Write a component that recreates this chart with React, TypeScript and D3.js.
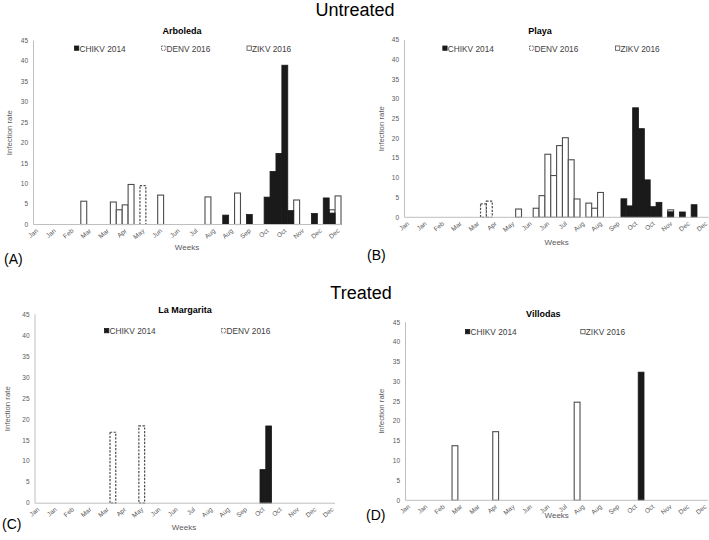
import React from "react";
import * as d3 from "d3";

// ---- categories & labels ----
const weeks: number[] = d3.range(1, 53); // 52 epidemiological weeks
const monthTicks = ["Jan","Jan","Feb","Mar","Mar","Apr","May","Jun","Jun","Jul","Aug","Aug","Sep","Oct","Oct","Nov","Dec","Dec"];
const yTicks = [0, 5, 10, 15, 20, 25, 30, 35, 40, 45];

// ---- data: [week, infection rate] ----
const arboledaCHIKV: [number, number][] = [[33,2.3],[37,2.45],[40,6.7],[41,13.0],[42,17.4],[43,39.0],[44,3.4],[48,2.7],[50,6.5],[51,2.8]];
const arboledaDENV: [number, number][] = [[19,9.5]];
const arboledaZIKV: [number, number][] = [[9,5.7],[14,5.5],[15,3.6],[16,4.8],[17,9.8],[22,7.2],[30,6.75],[35,7.7],[45,6.0],[51,3.6],[52,7.0]];

const playaCHIKV: [number, number][] = [[38,4.7],[39,2.9],[40,27.8],[41,22.5],[42,9.5],[43,2.7],[44,3.8],[46,1.4],[48,1.35],[50,3.2]];
const playaDENV: [number, number][] = [[14,3.4],[15,4.1]];
const playaZIKV: [number, number][] = [[20,2.1],[23,2.3],[24,5.5],[25,16.0],[26,10.6],[27,18.2],[28,20.2],[29,14.6],[30,4.65],[32,3.6],[33,2.3],[34,6.3],[46,1.9]];

const margaritaCHIKV: [number, number][] = [[40,8.0],[41,18.4]];
const margaritaDENV: [number, number][] = [[14,16.9],[19,18.4]];

const villodasCHIKV: [number, number][] = [[41,32.4]];
const villodasZIKV: [number, number][] = [[9,13.8],[16,17.35],[30,24.8]];

type SeriesKey = "CHIKV" | "DENV" | "ZIKV";
const seriesNames: Record<SeriesKey, string> = { CHIKV: "CHIKV 2014", DENV: "DENV 2016", ZIKV: "ZIKV 2016" };

const FONT = "'Liberation Sans', Arial, Helvetica, sans-serif";
const GRAY = "#595959";
const AXIS = "#bfbfbf";

interface PanelCfg {
  title: string;
  tag: string;
  x0: number; x1: number; y0: number; yTop: number;
  titleX: number; titleY: number;
  yTitleX: number;
  weeksX: number; weeksY: number;
  tagX: number; tagY: number;
  legendY: number;
  legend: { key: SeriesKey; x: number }[];
  series: { key: SeriesKey; data: [number, number][] }[];
}

const panels: PanelCfg[] = [
  {
    title: "Arboleda", tag: "(A)",
    x0: 33.5, x1: 341, y0: 224.5, yTop: 40.7,
    titleX: 182, titleY: 34, yTitleX: 9.5, weeksX: 187, weeksY: 250, tagX: 4, tagY: 264,
    legendY: 51.5,
    legend: [{ key: "CHIKV", x: 74 }, { key: "DENV", x: 161 }, { key: "ZIKV", x: 246.5 }],
    series: [{ key: "ZIKV", data: arboledaZIKV }, { key: "DENV", data: arboledaDENV }, { key: "CHIKV", data: arboledaCHIKV }],
  },
  {
    title: "Playa", tag: "(B)",
    x0: 404.5, x1: 708.7, y0: 217.3, yTop: 40,
    titleX: 540, titleY: 34, yTitleX: 381, weeksX: 556.7, weeksY: 244.5, tagX: 367, tagY: 260,
    legendY: 51.5,
    legend: [{ key: "CHIKV", x: 442.3 }, { key: "DENV", x: 529 }, { key: "ZIKV", x: 615 }],
    series: [{ key: "ZIKV", data: playaZIKV }, { key: "DENV", data: playaDENV }, { key: "CHIKV", data: playaCHIKV }],
  },
  {
    title: "La Margarita", tag: "(C)",
    x0: 35, x1: 335, y0: 503.2, yTop: 314.3,
    titleX: 185, titleY: 313, yTitleX: 7.5, weeksX: 184, weeksY: 530, tagX: 2, tagY: 529,
    legendY: 334,
    legend: [{ key: "CHIKV", x: 104 }, { key: "DENV", x: 221 }],
    series: [{ key: "DENV", data: margaritaDENV }, { key: "CHIKV", data: margaritaCHIKV }],
  },
  {
    title: "Villodas", tag: "(D)",
    x0: 405.5, x1: 708, y0: 500.3, yTop: 322.3,
    titleX: 543.3, titleY: 316.5, yTitleX: 381.5, weeksX: 556.7, weeksY: 518, tagX: 366, tagY: 520,
    legendY: 335,
    legend: [{ key: "CHIKV", x: 465 }, { key: "ZIKV", x: 580.3 }],
    series: [{ key: "ZIKV", data: villodasZIKV }, { key: "CHIKV", data: villodasCHIKV }],
  },
];

function barStyle(key: SeriesKey) {
  if (key === "CHIKV") return { fill: "#1a1a1a", stroke: "#1a1a1a", strokeWidth: 0.8 };
  if (key === "DENV") return { fill: "#ffffff", stroke: "#4d4d4d", strokeWidth: 1.2, strokeDasharray: "2.2,1.4" };
  return { fill: "#ffffff", stroke: "#4d4d4d", strokeWidth: 1.1 };
}

function Panel({ cfg }: { cfg: PanelCfg }) {
  const xs = d3.scaleBand<number>().domain(weeks).range([cfg.x0, cfg.x1]).paddingInner(0).paddingOuter(0);
  const ys = d3.scaleLinear().domain([0, 45]).range([cfg.y0, cfg.yTop]);
  const bw = xs.bandwidth();
  const yMid = (cfg.y0 + cfg.yTop) / 2;
  return (
    <g>
      <text x={cfg.titleX} y={cfg.titleY} textAnchor="middle" fontFamily={FONT} fontWeight="bold" fontSize={9} fill="#000">{cfg.title}</text>
      {/* legend */}
      {cfg.legend.map((l) => {
        const st = barStyle(l.key);
        return (
          <g key={l.key}>
            <rect x={l.x + 0.5} y={cfg.legendY - 5.5} width={4.3} height={4.3}
              fill={st.fill} stroke={st.stroke} strokeWidth={0.8} strokeDasharray={l.key === "DENV" ? "1.4,0.9" : undefined} />
            <text x={l.x + 5.5} y={cfg.legendY} fontFamily={FONT} fontSize={8.3} fill="#404040">{seriesNames[l.key]}</text>
          </g>
        );
      })}
      {/* y axis */}
      <line x1={cfg.x0} x2={cfg.x0} y1={cfg.y0} y2={cfg.yTop} stroke={AXIS} strokeWidth={1} />
      {yTicks.map((t) => (
        <text key={t} x={cfg.x0 - 5.5} y={ys(t)} dy="0.35em" textAnchor="end" fontFamily={FONT} fontSize={6.5} fill={GRAY}>{t}</text>
      ))}
      <text transform={`translate(${cfg.yTitleX},${yMid}) rotate(-90)`} textAnchor="middle" dy="0.35em" fontFamily={FONT} fontSize={7.8} fill={GRAY}>Infection rate</text>
      {/* bars */}
      {cfg.series.map((s) => {
        const st = barStyle(s.key);
        return (
          <g key={s.key}>
            {s.data.map(([w, v]) => (
              <rect key={w} x={(xs(w) as number)} y={ys(v)} width={bw} height={cfg.y0 - ys(v)}
                fill={st.fill} stroke={st.stroke} strokeWidth={st.strokeWidth} strokeDasharray={(st as any).strokeDasharray} />
            ))}
          </g>
        );
      })}
      {/* x axis */}
      <line x1={cfg.x0} x2={cfg.x1} y1={cfg.y0} y2={cfg.y0} stroke={AXIS} strokeWidth={1} />
      {monthTicks.map((m, i) => {
        const w = weeks[i * 3];
        const cx = (xs(w) as number) + bw / 2;
        return (
          <text key={i} transform={`translate(${cx + 2},${cfg.y0 + 7}) rotate(-40)`} textAnchor="end"
            fontFamily={FONT} fontSize={6.5} fill={GRAY}>{m}</text>
        );
      })}
      <text x={cfg.weeksX} y={cfg.weeksY} textAnchor="middle" fontFamily={FONT} fontSize={8} fill={GRAY}>Weeks</text>
      <text x={cfg.tagX} y={cfg.tagY} fontFamily={FONT} fontSize={14} fill="#000">{cfg.tag}</text>
    </g>
  );
}

export default function App() {
  return (
    <svg width={709} height={540} viewBox="0 0 709 540" style={{ position: "absolute", left: 0, top: 0, background: "#fff" }}>
      <rect width={709} height={540} fill="#fff" />
      <text x={355} y={16} textAnchor="middle" fontFamily={FONT} fontSize={18} fill="#000">Untreated</text>
      <text x={361} y={298.5} textAnchor="middle" fontFamily={FONT} fontSize={18} fill="#000">Treated</text>
      {panels.map((p) => <Panel key={p.title} cfg={p} />)}
    </svg>
  );
}
